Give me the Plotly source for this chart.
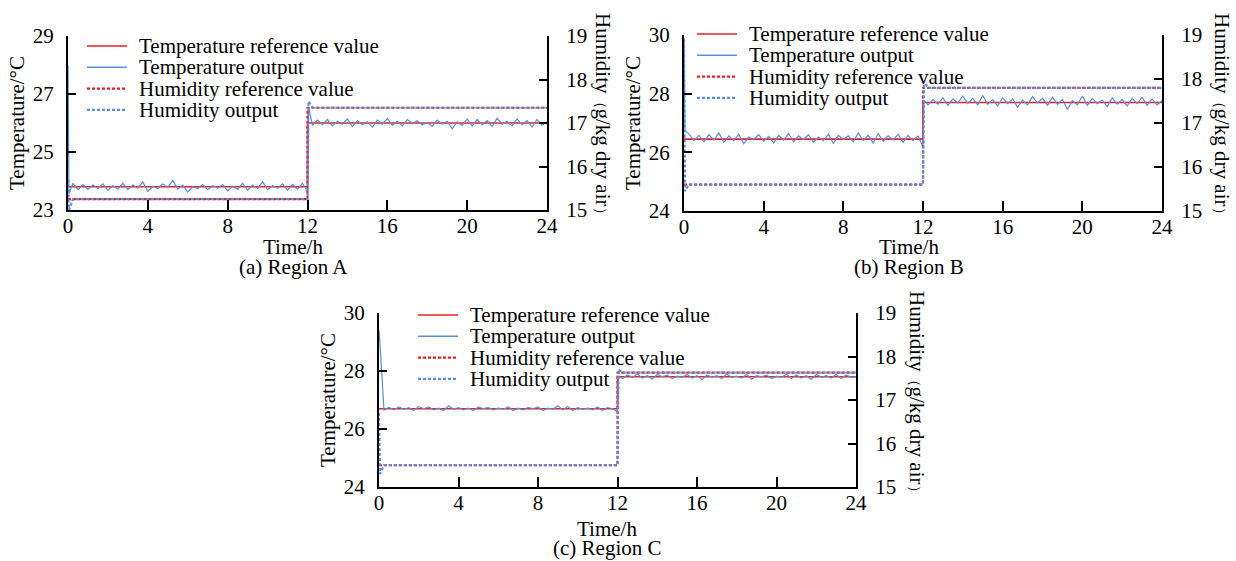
import plotly.graph_objects as go

# ---------------- data ----------------
# time (h) of the sampled output series
HOURS_OUT = [0.0, 0.05] + [k / 4 for k in range(1, 49)] + [12.05] + [k / 4 for k in range(49, 97)]
# time (h) of the step reference series
REF_HOURS = [0, 12, 12, 24]
# time (h) of humidity output samples
HUM_OUT_HOURS = [0, 0.05, 0.25, 12.0, 12.05, 12.25, 24]

X_TICKS = [0, 4, 8, 12, 16, 20, 24]
HUM_TICKS = [15, 16, 17, 18, 19]

# Region A
A_TEMP_REF = [23.8, 23.8, 26.0, 26.0]
A_HUM_REF = [15.25, 15.25, 17.35, 17.35]
A_HUM_OUT = [15.7, 15.0, 15.25, 15.25, 17.5, 17.35, 17.35]
A_TEMP_OUT = [
    28.0, 23.55,
    23.92, 23.70, 23.88, 23.72, 23.86, 23.74, 23.90, 23.68,
    23.84, 23.72, 23.92, 23.70, 23.86, 23.76, 23.96, 23.64,
    23.82, 23.74, 23.90, 23.78, 24.02, 23.72, 23.86, 23.62,
    23.80, 23.74, 23.88, 23.70, 23.84, 23.76, 23.88, 23.66,
    23.82, 23.72, 23.92, 23.68, 23.86, 23.74, 23.98, 23.70,
    23.84, 23.76, 23.90, 23.68, 23.88, 23.72, 23.92, 23.62,
    26.55,
    25.92, 26.10, 25.94, 26.12, 25.90, 26.06, 25.96, 26.14,
    25.88, 26.08, 25.94, 26.04, 25.86, 26.10, 25.96, 26.16,
    25.92, 26.06, 25.90, 26.12, 25.98, 26.08, 25.94, 26.02,
    25.88, 26.10, 25.96, 26.06, 25.80, 26.04, 25.92, 26.14,
    25.90, 26.12, 25.94, 26.08, 25.88, 26.16, 25.96, 26.06,
    25.90, 26.14, 25.94, 26.08, 25.86, 26.12, 25.92, 26.04,
]
A_TEMP_TICKS = [23, 25, 27, 29]

# Region B
B_TEMP_REF = [26.45, 26.45, 27.7, 27.7]
B_HUM_REF = [15.6, 15.6, 17.8, 17.8]
B_HUM_OUT = [18.9, 15.45, 15.6, 15.6, 17.95, 17.8, 17.8]
B_TEMP_OUT = [
    29.9, 26.75,
    26.62, 26.40, 26.58, 26.36, 26.60, 26.42, 26.66, 26.34,
    26.56, 26.40, 26.62, 26.30, 26.52, 26.44, 26.60, 26.38,
    26.54, 26.32, 26.58, 26.42, 26.64, 26.36, 26.56, 26.44,
    26.60, 26.34, 26.52, 26.40, 26.62, 26.30, 26.58, 26.44,
    26.56, 26.36, 26.66, 26.40, 26.58, 26.32, 26.64, 26.38,
    26.56, 26.42, 26.62, 26.34, 26.58, 26.40, 26.56, 26.18,
    27.78,
    27.62, 27.80, 27.64, 27.86, 27.60, 27.82, 27.68, 27.92,
    27.66, 27.84, 27.62, 27.94, 27.64, 27.80, 27.58, 27.86,
    27.66, 27.82, 27.54, 27.78, 27.62, 27.90, 27.68, 27.84,
    27.60, 27.88, 27.64, 27.80, 27.46, 27.76, 27.62, 27.92,
    27.60, 27.84, 27.66, 27.78, 27.56, 27.86, 27.64, 27.80,
    27.58, 27.84, 27.66, 27.88, 27.60, 27.82, 27.62, 27.76,
]
B_TEMP_TICKS = [24, 26, 28, 30]

# Region C
C_TEMP_REF = [26.7, 26.7, 27.8, 27.8]
C_HUM_REF = [15.5, 15.5, 17.63, 17.63]
C_HUM_OUT = [16.7, 15.3, 15.5, 15.5, 17.7, 17.63, 17.63]
C_TEMP_OUT = [
    29.4, 28.95,
    26.65, 26.74, 26.66, 26.76, 26.68, 26.74, 26.64, 26.78,
    26.70, 26.76, 26.66, 26.72, 26.64, 26.80, 26.68, 26.74,
    26.66, 26.72, 26.64, 26.76, 26.70, 26.74, 26.66, 26.72,
    26.68, 26.76, 26.64, 26.72, 26.66, 26.74, 26.70, 26.76,
    26.64, 26.72, 26.68, 26.80, 26.66, 26.78, 26.64, 26.74,
    26.68, 26.72, 26.66, 26.76, 26.64, 26.74, 26.70, 26.60,
    27.82,
    27.74, 27.86, 27.78, 27.90, 27.76, 27.84, 27.72, 27.88,
    27.80, 27.86, 27.74, 27.82, 27.78, 27.88, 27.76, 27.84,
    27.70, 27.86, 27.78, 27.84, 27.74, 27.90, 27.78, 27.82,
    27.76, 27.88, 27.72, 27.84, 27.80, 27.86, 27.74, 27.82,
    27.78, 27.90, 27.74, 27.86, 27.76, 27.84, 27.72, 27.88,
    27.78, 27.84, 27.76, 27.88, 27.74, 27.86, 27.78, 27.80,
]
C_TEMP_TICKS = [24, 26, 28, 30]

SERIES_NAMES = ["Temperature reference value", "Temperature output",
                "Humidity reference value", "Humidity output"]
CAPTIONS = ["(a) Region A", "(b) Region B", "(c) Region C"]
HUM_TITLE = ("Humidity<span style='font-size:15px'>（</span>g/kg dry air"
             "<span style='font-size:15px'>）</span>")

# ---------------- styling / layout ----------------
W, H = 1236, 561
FONT = "Liberation Serif, Times New Roman, serif"
FS = 21
RED = "#EE1D23"
BLUE = "#5A8FD8"
STYLES = [
    dict(color=RED, width=1.6),
    dict(color=BLUE, width=1.2),
    dict(color=RED, width=2.2, dash="3px,2px"),
    dict(color=BLUE, width=2.2, dash="3px,2px"),
]


def fx(p):
    return p / W


def fy(p):
    return 1 - p / H


panels = [
    dict(xa="x", ya="y", ya2="y2", box=(68, 547, 36, 210),
         t_ref=A_TEMP_REF, t_out=A_TEMP_OUT, h_ref=A_HUM_REF, h_out=A_HUM_OUT,
         t_rng=[23, 29], t_ticks=A_TEMP_TICKS,
         leg=(87, 46), hum_title=(603, 117), cap_x=293, cap_y=(247, 267)),
    dict(xa="x2", ya="y3", ya2="y4", box=(684, 1162, 35, 211),
         t_ref=B_TEMP_REF, t_out=B_TEMP_OUT, h_ref=B_HUM_REF, h_out=B_HUM_OUT,
         t_rng=[24, 30], t_ticks=B_TEMP_TICKS,
         leg=(697, 34), hum_title=(1222, 117), cap_x=909, cap_y=(247, 267)),
    dict(xa="x3", ya="y5", ya2="y6", box=(379, 856, 313, 487),
         t_ref=C_TEMP_REF, t_out=C_TEMP_OUT, h_ref=C_HUM_REF, h_out=C_HUM_OUT,
         t_rng=[24, 30], t_ticks=C_TEMP_TICKS,
         leg=(418, 315), hum_title=(917, 395), cap_x=607, cap_y=(529, 548)),
]

fig = go.Figure()
layout = dict(
    width=W, height=H, margin=dict(l=0, r=0, t=0, b=0, autoexpand=False),
    paper_bgcolor="white", plot_bgcolor="white",
    showlegend=False, font=dict(family=FONT, size=FS, color="black"),
)

axis_common = dict(
    showline=True, linecolor="black", linewidth=2,
    ticks="inside", tickwidth=2, tickcolor="black",
    showgrid=False, zeroline=False, automargin=False,
    tickfont=dict(family=FONT, size=FS, color="black"),
)

annotations = []
shapes = []

for i, p in enumerate(panels):
    x0, x1, y0, y1 = p["box"]
    xa, ya, ya2 = p["xa"], p["ya"], p["ya2"]
    ya2_name = "yaxis" + ya2[1:]
    ya_name = "yaxis" + (ya[1:] if ya != "y" else "")
    xa_name = "xaxis" + (xa[1:] if xa != "x" else "")

    series = [
        (REF_HOURS, p["t_ref"], ya),
        (HOURS_OUT, p["t_out"], ya),
        (REF_HOURS, p["h_ref"], ya2),
        (HUM_OUT_HOURS, p["h_out"], ya2),
    ]
    for (xs, ys, yax), name, st in zip(series, SERIES_NAMES, STYLES):
        fig.add_trace(go.Scatter(x=xs, y=ys, mode="lines", name=name,
                                 line=st, xaxis=xa, yaxis=yax,
                                 showlegend=False, hoverinfo="skip"))

    layout[xa_name] = dict(axis_common, domain=[fx(x0), fx(x1)], anchor=ya,
                           range=[0, 24], tickvals=X_TICKS, ticklen=10,
                           ticklabelstandoff=-4)
    layout[ya_name] = dict(axis_common, domain=[fy(y1), fy(y0)], anchor=xa,
                           range=p["t_rng"], tickvals=p["t_ticks"], ticklen=8,
                           ticklabelstandoff=8,
                           title=dict(text="Temperature/°C", standoff=2,
                                      font=dict(family=FONT, size=FS, color="black")))
    layout[ya2_name] = dict(axis_common, overlaying=ya, side="right", anchor=xa,
                            range=[15, 19], tickvals=HUM_TICKS, ticklen=8,
                            ticklabelstandoff=13)

    # right axis title (reads top-to-bottom)
    hx, hy = p["hum_title"]
    annotations.append(dict(text=HUM_TITLE, textangle=90,
                            x=fx(hx), y=fy(hy), xref="paper", yref="paper",
                            showarrow=False, xanchor="center", yanchor="middle",
                            font=dict(family=FONT, size=FS, color="black")))
    # x title and caption
    annotations.append(dict(text="Time/h", x=fx(p["cap_x"]), y=fy(p["cap_y"][0]),
                            xref="paper", yref="paper", showarrow=False,
                            xanchor="center", yanchor="middle",
                            font=dict(family=FONT, size=FS, color="black")))
    annotations.append(dict(text=CAPTIONS[i], x=fx(p["cap_x"]), y=fy(p["cap_y"][1]),
                            xref="paper", yref="paper", showarrow=False,
                            xanchor="center", yanchor="middle",
                            font=dict(family=FONT, size=FS, color="black")))

    # legend (manual, compact rows)
    lx, ly = p["leg"]
    for r, (name, st) in enumerate(zip(SERIES_NAMES, STYLES)):
        yy = ly + r * 21.3
        shapes.append(dict(type="line", xref="paper", yref="paper",
                           x0=fx(lx), x1=fx(lx + 40), y0=fy(yy), y1=fy(yy),
                           line=dict(color=st["color"], width=max(st["width"], 1.6),
                                     dash=st.get("dash", "solid"))))
        annotations.append(dict(text=name, x=fx(lx + 50), y=fy(yy),
                                xref="paper", yref="paper", showarrow=False,
                                xanchor="left", yanchor="middle",
                                font=dict(family=FONT, size=FS, color="black")))

layout["annotations"] = annotations
layout["shapes"] = shapes
fig.update_layout(**layout)
fig.write_html(
    "out.html",
    config={"displayModeBar": False},
    post_script="document.body.style.margin='0';document.body.style.padding='0';"
                "document.body.style.overflow='hidden';",
)
